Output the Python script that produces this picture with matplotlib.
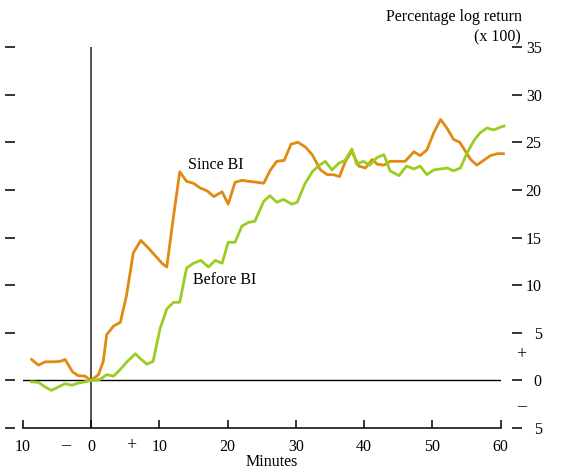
import matplotlib
matplotlib.use('Agg')
import matplotlib.pyplot as plt

plt.rcParams['font.family'] = ['Liberation Serif', 'DejaVu Serif']
plt.rcParams['font.size'] = 11.5

# cumulative log return (x 100) around the event, minute by minute
since_min = [-8.7, -7.7, -6.7, -5.5, -4.5, -3.8, -2.7, -1.9, -0.9, 0, 1.1, 1.8, 2.3,
             3.3, 4.3, 5.2, 6.2, 7.3, 8.4, 9.4, 10.4, 11.1, 12.1, 13.0, 14.0, 15.0,
             16.0, 17.0, 18.0, 19.2, 20.1, 21.1, 22.1, 23.1, 24.3, 25.3, 26.2, 27.2,
             28.3, 29.3, 30.3, 31.4, 32.4, 33.6, 34.6, 35.5, 36.4, 37.2, 38.2, 39.2,
             40.2, 41.2, 41.9, 42.9, 43.8, 45.1, 46.0, 47.3, 48.2, 49.2, 50.2, 51.2,
             52.2, 53.1, 54.0, 54.8, 55.6, 56.5, 57.5, 58.5, 59.5, 60.4]
since_ret = [2.2, 1.6, 1.95, 1.95, 2.0, 2.2, 0.9, 0.5, 0.45, 0, 0.6, 2.0, 4.8,
             5.7, 6.1, 8.9, 13.4, 14.7, 13.9, 13.1, 12.3, 11.9, 17.3, 21.9, 20.9, 20.7,
             20.2, 19.9, 19.3, 19.8, 18.5, 20.8, 21.0, 20.9, 20.8, 20.7, 22.0, 23.0,
             23.1, 24.8, 25.0, 24.5, 23.7, 22.1, 21.6, 21.6, 21.4, 22.9, 24.1, 22.5,
             22.3, 23.2, 22.7, 22.6, 23.0, 23.0, 23.0, 24.0, 23.6, 24.2, 26.0, 27.4,
             26.4, 25.3, 25.0, 24.1, 23.2, 22.6, 23.1, 23.6, 23.8, 23.8]

before_min = [-8.7, -7.7, -6.7, -5.8, -4.8, -3.8, -2.8, -1.9, -0.9, 0, 1.3, 2.3, 3.3,
              4.3, 5.2, 6.5, 7.2, 8.2, 9.1, 10.1, 11.1, 12.1, 13.0, 14.0, 15.0, 16.1,
              17.2, 18.2, 19.2, 20.1, 21.1, 22.1, 23.1, 24.0, 25.3, 26.2, 27.2, 28.2,
              29.4, 30.2, 31.3, 32.4, 33.3, 34.3, 35.3, 36.3, 37.2, 38.2, 38.9, 39.9,
              40.8, 41.9, 42.9, 43.8, 45.1, 46.2, 47.3, 48.2, 49.2, 50.2, 51.2, 52.2,
              53.1, 54.1, 55.1, 56.1, 57.0, 58.0, 59.0, 60.0, 60.5]
before_ret = [-0.15, -0.2, -0.7, -1.05, -0.7, -0.35, -0.5, -0.3, -0.15, 0, 0.1, 0.6, 0.45,
              1.15, 1.9, 2.8, 2.3, 1.7, 2.0, 5.4, 7.5, 8.2, 8.2, 11.8, 12.3, 12.6,
              11.9, 12.6, 12.3, 14.5, 14.5, 16.2, 16.6, 16.7, 18.8, 19.4, 18.7, 19.0,
              18.5, 18.7, 20.6, 21.9, 22.5, 23.0, 22.1, 22.8, 23.1, 24.3, 22.7, 23.0,
              22.6, 23.4, 23.7, 22.0, 21.5, 22.5, 22.2, 22.5, 21.6, 22.1, 22.2, 22.3,
              22.0, 22.3, 23.9, 25.2, 26.0, 26.5, 26.3, 26.6, 26.7]

x_ticks = [-10, 0, 10, 20, 30, 40, 50, 60]
x_labels = ['10', '0', '10', '20', '30', '40', '50', '60']
y_ticks = [-5, 0, 5, 10, 15, 20, 25, 30, 35]
y_labels = ['5', '0', '5', '10', '15', '20', '25', '30', '35']

fig = plt.figure(figsize=(5.66, 4.74), dpi=100)
ax = fig.add_axes([0.0401, 0.097, 0.8445, 0.8038])

ax.plot(since_min, since_ret, color='#e08a12', lw=2.0, solid_joinstyle='round', clip_on=False)
ax.plot(before_min, before_ret, color='#9acd22', lw=2.0, solid_joinstyle='round', clip_on=False)

# reference lines at zero
ax.axhline(0, color='black', lw=1.0, zorder=1)
ax.axvline(0, color='#444444', lw=1.3, zorder=1)

ax.set_xlim(-10, 60)
ax.set_ylim(-5, 35)

# bottom axis: spine with inward ticks
ax.set_xticks(x_ticks)
ax.set_xticklabels(x_labels)
ax.tick_params(axis='x', direction='in', length=5.5, width=1.1, pad=8.0)

# value ticks on both sides, offset from the plot
ax.spines['top'].set_visible(False)
ax.spines['left'].set_position(('outward', 5.5))
ax.spines['right'].set_position(('outward', 8))
ax.spines['left'].set_visible(False)
ax.spines['right'].set_visible(False)
ax.spines['bottom'].set_linewidth(1.1)
ax.set_yticks(y_ticks)
ax.set_yticklabels(y_labels)
ax.tick_params(axis='y', direction='out', length=7.5, width=1.1, left=True, right=True,
               labelleft=False, labelright=True, pad=14.0)
for lbl in ax.get_yticklabels():
    lbl.set_horizontalalignment('right')

# sign marks
ax.text(-3.66, -6.9, '\u2013', ha='center', va='center', fontsize=13, clip_on=False)
ax.text(5.86, -6.9, '+', ha='center', va='center', fontsize=13, clip_on=False)
ax.text(63.0, 2.73, '+', ha='center', va='center', fontsize=13, clip_on=False)
ax.text(63.0, -2.78, '\u2013', ha='center', va='center', fontsize=13, clip_on=False)

ax.text(14.2, 22.6, 'Since BI', ha='left', va='center')
ax.text(14.9, 10.5, 'Before BI', ha='left', va='center')

fig.text(0.4806, 0.0253, 'Minutes', ha='center', va='center')
fig.text(522 / 566, 1 - 17 / 474, 'Percentage log return', ha='right', va='center')
fig.text(521 / 566, 1 - 37 / 474, '(x 100)', ha='right', va='center')

fig.savefig('out.png', dpi=100)
